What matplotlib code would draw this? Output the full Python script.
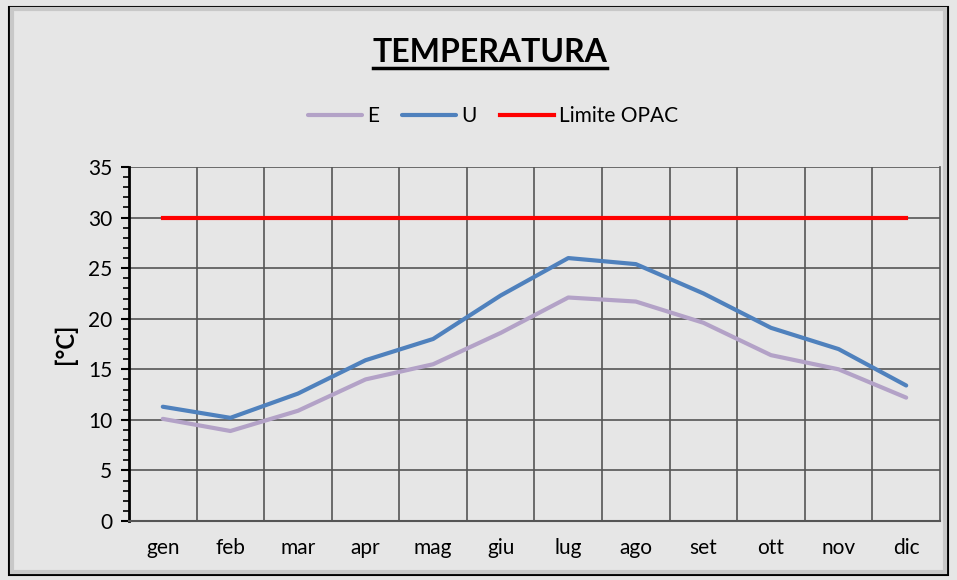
import numpy as np
import matplotlib
matplotlib.use("Agg")
import matplotlib.pyplot as plt
from matplotlib.patches import Rectangle
from matplotlib.ticker import MultipleLocator

plt.rcParams['font.family'] = ['Lato', 'DejaVu Sans']

months = ["gen", "feb", "mar", "apr", "mag", "giu", "lug", "ago", "set", "ott", "nov", "dic"]
temp_e = [10.1, 8.9, 10.9, 14.0, 15.5, 18.6, 22.1, 21.7, 19.6, 16.4, 15.0, 12.2]
temp_u = [11.3, 10.2, 12.6, 15.9, 18.0, 22.3, 26.0, 25.4, 22.5, 19.1, 17.0, 13.4]
limite = [30] * 12

bg = "#e6e6e6"
fig = plt.figure(figsize=(9.57, 5.80), dpi=100, facecolor=bg)

# outer frame
fig.patches.append(Rectangle((0.009, 0.009), 0.982, 0.979, transform=fig.transFigure,
                             fill=False, edgecolor="black", linewidth=1.5))
fig.patches.append(Rectangle((0.013, 0.013), 0.974, 0.971, transform=fig.transFigure,
                             fill=False, edgecolor="#c8c8c8", linewidth=3))

ax = fig.add_axes([0.1348, 0.1017, 0.8474, 0.6103])
ax.set_facecolor(bg)

x = np.arange(len(months))
ax.plot(x, temp_e, color="#b3a2c7", lw=3, label="E", solid_capstyle="round")
ax.plot(x, temp_u, color="#4f81bd", lw=3, label="U", solid_capstyle="round")
ax.plot(x, limite, color="#ff0000", lw=3, label="Limite OPAC")

ax.set_xlim(-0.5, 11.5)
ax.set_ylim(0, 35)
ax.set_xticks(x)
ax.set_xticklabels(months, fontsize=15)
ax.set_xticks(np.arange(0.5, 11.5, 1), minor=True)
ax.tick_params(axis="x", which="both", length=0, pad=12)
ax.yaxis.set_major_locator(MultipleLocator(5))
ax.yaxis.set_minor_locator(MultipleLocator(1))
ax.tick_params(axis="y", which="major", length=6, width=1.5, labelsize=15, pad=6)
ax.tick_params(axis="y", which="minor", length=4, width=1.2)

ax.grid(True, axis="y", which="major", color="#555555", lw=1.2)
ax.grid(True, axis="x", which="minor", color="#555555", lw=1.2)
ax.set_axisbelow(True)

ax.spines["top"].set_visible(False)
ax.spines["left"].set_linewidth(2)
ax.spines["left"].set_color("black")
ax.spines["bottom"].set_color("#555555")
ax.spines["bottom"].set_linewidth(1.5)
ax.spines["right"].set_color("#555555")
ax.spines["right"].set_linewidth(1.2)

ax.set_ylabel("[°C]", fontsize=17, fontweight="bold", labelpad=8)

fig.text(0.512, 0.91, "TEMPERATURA", ha="center", va="center", fontsize=23, fontweight="bold")
fig.add_artist(plt.Line2D([0.390, 0.634], [0.882, 0.882], color="black", lw=2.5,
                          transform=fig.transFigure))

fig.legend(loc="center", bbox_to_anchor=(0.515, 0.8), ncol=3, frameon=False,
           fontsize=15, handlelength=2.6, handletextpad=0.25, columnspacing=1.1)

fig.savefig("out.png", dpi=100, facecolor=bg)
